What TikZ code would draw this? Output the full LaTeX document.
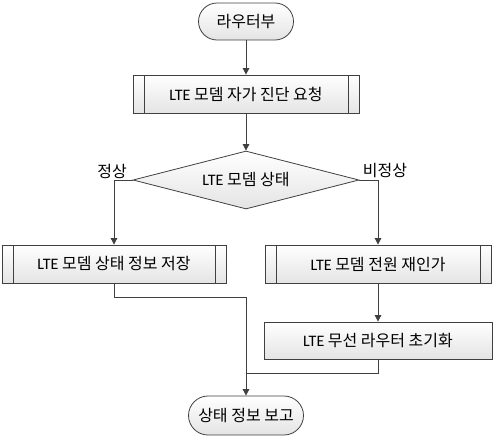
\documentclass[tikz,border=0pt]{standalone}
\usepackage{fontspec}
\setmainfont{Noto Sans CJK KR}
\newfontfamily\lat{Carlito}
\usetikzlibrary{shapes.geometric,shapes.misc,arrows.meta}
\definecolor{ln}{HTML}{404040}
\definecolor{fillbot}{HTML}{E4E4E4}
\tikzset{
  base/.style={draw=ln, line width=0.8pt, top color=white, bottom color=fillbot, inner sep=0pt, font=\fontsize{16}{18}\selectfont, text=black},
  term/.style={base, rounded rectangle},
  proc/.style={base, rectangle},
  predef/.style={base, rectangle, path picture={
      \draw[ln, line width=0.8pt] ([xshift=11pt]path picture bounding box.north west) -- ([xshift=11pt]path picture bounding box.south west);
      \draw[ln, line width=0.8pt] ([xshift=-11pt]path picture bounding box.north east) -- ([xshift=-11pt]path picture bounding box.south east);}},
  decis/.style={base, diamond, aspect=3.9},
  conn/.style={draw=ln, line width=0.8pt},
  arr/.style={conn, -{Triangle[length=6.5pt,width=6.5pt]}},
  lbl/.style={font=\fontsize{16}{18}\selectfont, inner sep=0pt}
}
\begin{document}
\begin{tikzpicture}[x=1pt,y=-1pt]
\useasboundingbox (0,0) rectangle (494,437);
\node[term, minimum width=95pt, minimum height=37pt] (t1) at (246,21.5) {라우터부};
\node[predef, minimum width=226pt, minimum height=38pt] (b1) at (246,94) {{\lat LTE} 모뎀 자가 진단 요청};
\node[decis, minimum width=226pt, minimum height=58pt] (d) at (246,180) {{\lat LTE} 모뎀 상태};
\node[predef, minimum width=224pt, minimum height=38pt] (bl) at (114,264) {{\lat LTE} 모뎀 상태 정보 저장};
\node[predef, minimum width=226pt, minimum height=38pt] (br) at (378,264) {{\lat LTE} 모뎀 전원 재인가};
\node[proc, minimum width=228pt, minimum height=37pt] (b3) at (378,340.5) {{\lat LTE} 무선 라우터 초기화};
\node[term, minimum width=115pt, minimum height=39pt] (t2) at (246,415.5) {상태 정보 보고};
\node[lbl] (lok) at (112,171) {정상};
\node[lbl] (lnok) at (385,171) {비정상};
\coordinate (j1) at (246,297);
\coordinate (j2) at (246,373);
\draw[arr] (t1.south) -- (b1.north);
\draw[arr] (b1.south) -- (d.north);
\draw[arr] (d.west) -| (bl.north);
\draw[arr] (d.east) -| (br.north);
\draw[arr] (br.south) -- (b3.north);
\draw[arr] (bl.south) |- (j1) -- (t2.north);
\draw[conn] (b3.south) |- (j2);
\end{tikzpicture}
\end{document}
